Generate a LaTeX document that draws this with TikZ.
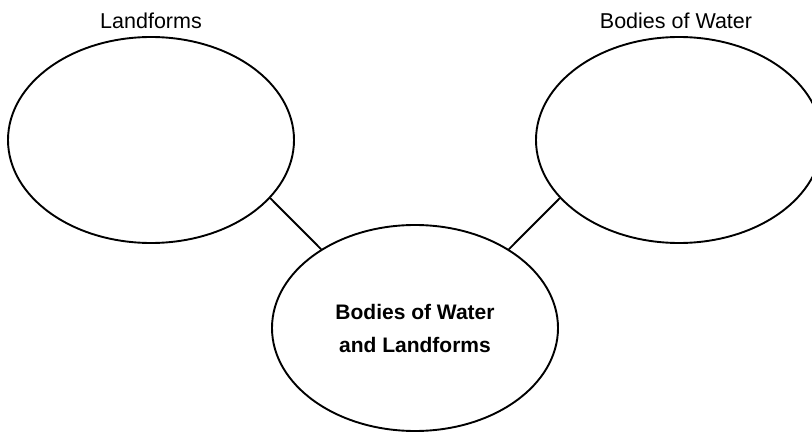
\documentclass[tikz,border=0pt]{standalone}
\usepackage{fontspec}
\setmainfont{Liberation Sans}
\usetikzlibrary{shapes.geometric}
\begin{document}
\begin{tikzpicture}[x=1pt,y=-1pt,
        bubble/.style={draw,ellipse,line width=1.9pt,inner sep=0pt,
            minimum width=286pt,minimum height=206pt},
        heading/.style={font=\fontsize{21.5}{26}\selectfont}]
    \useasboundingbox (0,0) rectangle (812,433);

    \node [bubble] (land) at (151,140) {};
    \node [bubble] (water) at (679,140) {};
    \node [bubble,font=\bfseries\fontsize{21}{33}\selectfont,align=center] (topic) at (415,328) {Bodies of Water\\and Landforms};

    \node [heading] (landlbl) at (151,21) {Landforms};
    \node [heading] (waterlbl) at (676,21) {Bodies of Water};

    \draw [line width=1.9pt] (land.-26) -- (topic.140);
    \draw [line width=1.9pt] (water.206) -- (topic.40);
\end{tikzpicture}
\end{document}
